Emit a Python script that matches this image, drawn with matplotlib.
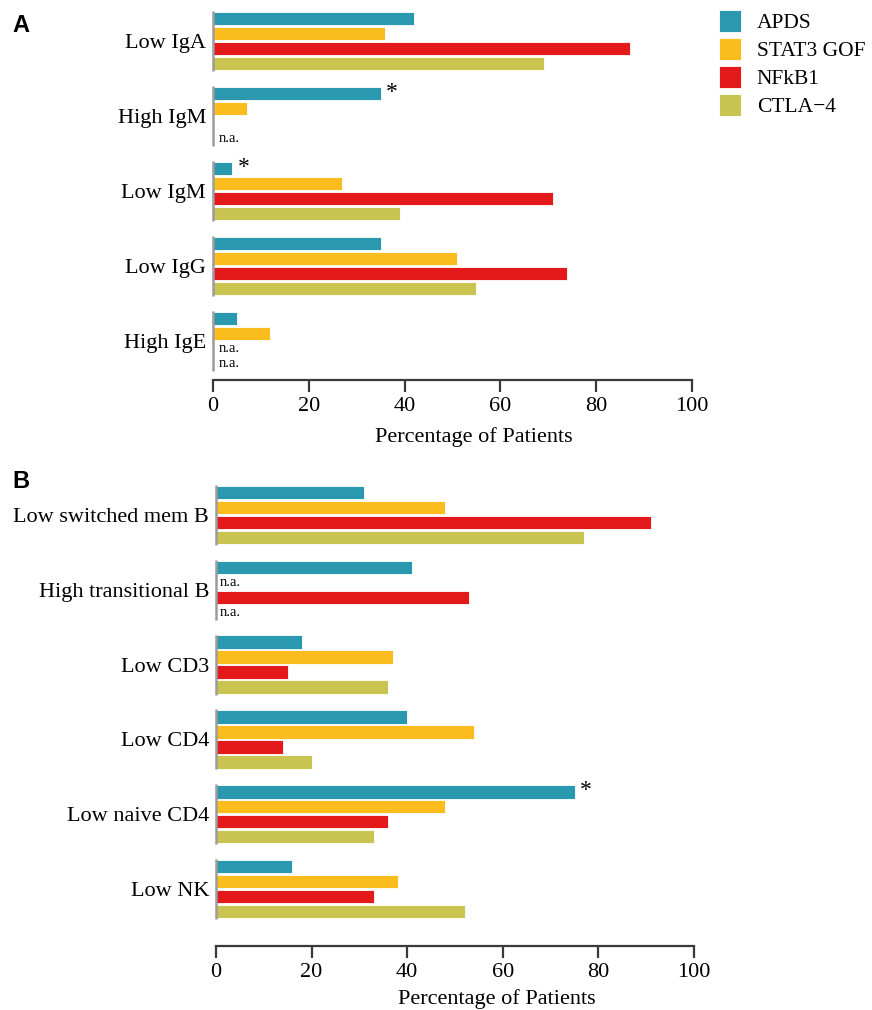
import matplotlib
matplotlib.use('Agg')
import matplotlib.pyplot as plt
from matplotlib.patches import Patch

plt.rcParams['font.family'] = ['Liberation Serif', 'DejaVu Serif']

series_names = ['APDS', 'STAT3 GOF', 'NFkB1', 'CTLA\u22124']
colors = ['#2a98ae', '#fbbd1e', '#e3191c', '#c9c450']

# panel A: immunoglobulins (None = not available)
groups_a = ['Low IgA', 'High IgM', 'Low IgM', 'Low IgG', 'High IgE']
apds_a = [42, 35, 4, 35, 5]
stat3_a = [36, 7, 27, 51, 12]
nfkb1_a = [87, 0, 71, 74, None]
ctla4_a = [69, None, 39, 55, None]
stars_a = [('High IgM', 'APDS'), ('Low IgM', 'APDS')]

# panel B: lymphocyte subsets
groups_b = ['Low switched mem B', 'High transitional B', 'Low CD3', 'Low CD4',
            'Low naive CD4', 'Low NK']
apds_b = [31, 41, 18, 40, 75, 16]
stat3_b = [48, None, 37, 54, 48, 38]
nfkb1_b = [91, 53, 15, 14, 36, 33]
ctla4_b = [77, None, 36, 20, 33, 52]
stars_b = [('Low naive CD4', 'APDS')]

W, H = 872, 1010
fig = plt.figure(figsize=(W / 100, H / 100), dpi=100)


def px_axes(left, right, top, bottom):
    return fig.add_axes([left / W, 1 - bottom / H, (right - left) / W, (bottom - top) / H])


def draw_panel(ax, groups, values, stars, offset_px, label_x, na_x):
    n = len(groups)
    for i, g in enumerate(groups):
        base = i * 5
        for j, col in enumerate(values):
            val = col[i]
            y = base + j + 0.5
            if val is None:
                ax.text(na_x, y, 'n.a.', fontsize=10.5, va='center', ha='left')
                continue
            ax.barh(y, val, height=0.9, color=colors[j], edgecolor='white', linewidth=0.6)
            if (g, series_names[j]) in stars:
                ax.annotate('*', (val, y), xytext=(4, 1), textcoords='offset points',
                            fontsize=17, ha='left', va='center')
        ax.vlines(0, base, base + 4, color='#9c9c9c', lw=1.8, clip_on=False, zorder=3)

    ax.set_ylim(n * 5 - 1, 0)
    ax.set_xlim(0, 100)
    ax.set_yticks([i * 5 + 2 for i in range(n)])
    ax.set_yticklabels(groups, fontsize=16)
    ax.tick_params(axis='y', length=0, pad=5)
    ax.set_xticks(range(0, 101, 20))
    ax.tick_params(axis='x', direction='out', length=8.5, width=1.6, color='#3a3a3a',
                   labelsize=16, pad=3.5)
    for s in ['top', 'right', 'left']:
        ax.spines[s].set_visible(False)
    sp = ax.spines['bottom']
    sp.set_position(('outward', offset_px * 0.72))
    sp.set_bounds(0, 100)
    sp.set_linewidth(1.6)
    sp.set_color('#3a3a3a')
    ax.set_xlabel('Percentage of Patients', fontsize=16)
    ax.xaxis.label.set_va('baseline')
    ax.xaxis.set_label_coords(label_x, -0.197)


ax_a = px_axes(213, 692, 11, 371)
draw_panel(ax_a, groups_a, [apds_a, stat3_a, nfkb1_a, ctla4_a], stars_a, 9, 0.545, 1.1)

ax_b = px_axes(216, 694, 485, 919)
draw_panel(ax_b, groups_b, [apds_b, stat3_b, nfkb1_b, ctla4_b], stars_b, 27, 0.588, 0.7)

fig.text(12 / W, 1 - 32 / H, 'A', family='Liberation Sans', weight='bold', fontsize=17,
         va='baseline')
fig.text(12 / W, 1 - 488 / H, 'B', family='Liberation Sans', weight='bold', fontsize=17,
         va='baseline')

handles = [Patch(facecolor=c, edgecolor='white', linewidth=0.6) for c in colors]
fig.legend(handles, series_names, loc='upper left', bbox_to_anchor=(719 / W, 1 - 10 / H),
           frameon=False, fontsize=15.5, handlelength=1.0, handleheight=1.2,
           handletextpad=0.75, labelspacing=0.22, borderpad=0, borderaxespad=0)

fig.savefig('out.png', dpi=100)
